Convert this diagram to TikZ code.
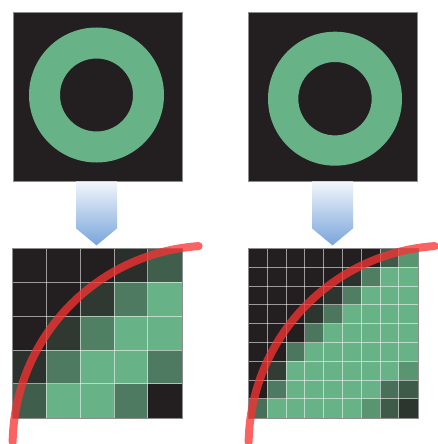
\documentclass[tikz,border=0pt]{standalone}
\usepackage{xcolor}
\definecolor{bgblack}{HTML}{231F20}
\definecolor{ringgreen}{HTML}{67B287}
\definecolor{framegray}{HTML}{8C8C8C}
\definecolor{arrowtop}{HTML}{F2F6FC}
\definecolor{arrowblue}{HTML}{79A5DB}
\definecolor{curvered}{HTML}{FA3232}
\usepackage{tikz}
\usetikzlibrary{calc}

\begin{document}
\begin{tikzpicture}[x=1pt, y=-1pt,
  panel/.style={rectangle, draw=framegray, line width=0.8pt, fill=bgblack,
    minimum size=169pt, inner sep=0pt},
  ring/.style={ringgreen, even odd rule},
  down arrow/.style={top color=arrowtop, bottom color=arrowblue},
  cellline/.style={white, opacity=0.55, line width=0.9pt},
  frame/.style={draw=framegray, line width=0.8pt},
  edge curve/.style={curvered, opacity=0.76, line width=8pt, line cap=round}]
  \useasboundingbox (0,0) rectangle (438,444);
  \node[panel] (ringL) at (97.5,96.5) {};
  \node[panel] (ringR) at (333,96.5) {};
  \node[panel] (gridL) at (97.5,333.5) {};
  \node[panel] (gridR) at (333.5,333.5) {};

  \fill[ring] (96.5,95) circle[radius=67.5] circle[radius=36.5];
  \fill[ring] (335,98.7) circle[radius=67] circle[radius=36.7];

  \shade[down arrow] ($(ringL.south)+(-21.5,0)$) -- ++(41,0) -- ++(0,47)
    -- ++(-20.5,17) -- ++(-20.5,-17) -- cycle;
  \shade[down arrow] ($(ringR.south)+(-21,0)$) -- ++(41,0) -- ++(0,47)
    -- ++(-20.5,17) -- ++(-20.5,-17) -- cycle;

  \foreach \row [count=\j from 0] in {{0,0,0,11,43},{0,0,18,62,100},
      {0,18,66,100,100},{12,62,100,100,62},{43,100,100,62,0}}
    \foreach \v [count=\i from 0] in \row
      \fill[ringgreen!\v!bgblack] ($(gridL.north west)+(\i*33.8,\j*33.8)$)
        rectangle ++(33.8,33.8);
  \foreach \row [count=\j from 0] in {{0,0,0,0,0,0,0,40,80},
      {0,0,0,0,0,12,65,100,100},{0,0,0,0,15,65,100,100,100},
      {0,0,0,15,60,100,100,100,100},{0,0,0,60,100,100,100,100,100},
      {0,0,60,100,100,100,100,100,100},{0,20,100,100,100,100,100,100,80},
      {0,62,100,100,100,100,100,55,40},{55,100,100,100,100,100,80,40,15}}
    \foreach \v [count=\i from 0] in \row
      \fill[ringgreen!\v!bgblack] ($(gridR.north west)+(\i*18.78,\j*18.78)$)
        rectangle ++(18.78,18.78);

  \foreach \k in {1,...,4} {
    \draw[cellline] ($(gridL.north west)+(\k*33.8,0)$) -- ($(gridL.south west)+(\k*33.8,0)$);
    \draw[cellline] ($(gridL.north west)+(0,\k*33.8)$) -- ($(gridL.north east)+(0,\k*33.8)$);
  }
  \foreach \k in {1,...,8} {
    \draw[cellline] ($(gridR.north west)+(\k*18.78,0)$) -- ($(gridR.south west)+(\k*18.78,0)$);
    \draw[cellline] ($(gridR.north west)+(0,\k*18.78)$) -- ($(gridR.north east)+(0,\k*18.78)$);
  }
  \draw[frame] (gridL.north west) rectangle (gridL.south east);
  \draw[frame] (gridR.north west) rectangle (gridR.south east);

  \draw[edge curve] ($(gridL.north west)+(200,197)+(181:200)$)
    arc[start angle=181, end angle=266, radius=200];
  \draw[edge curve] ($(gridR.north west)+(200,197)+(181:200)$)
    arc[start angle=181, end angle=266, radius=200];
\end{tikzpicture}
\end{document}
